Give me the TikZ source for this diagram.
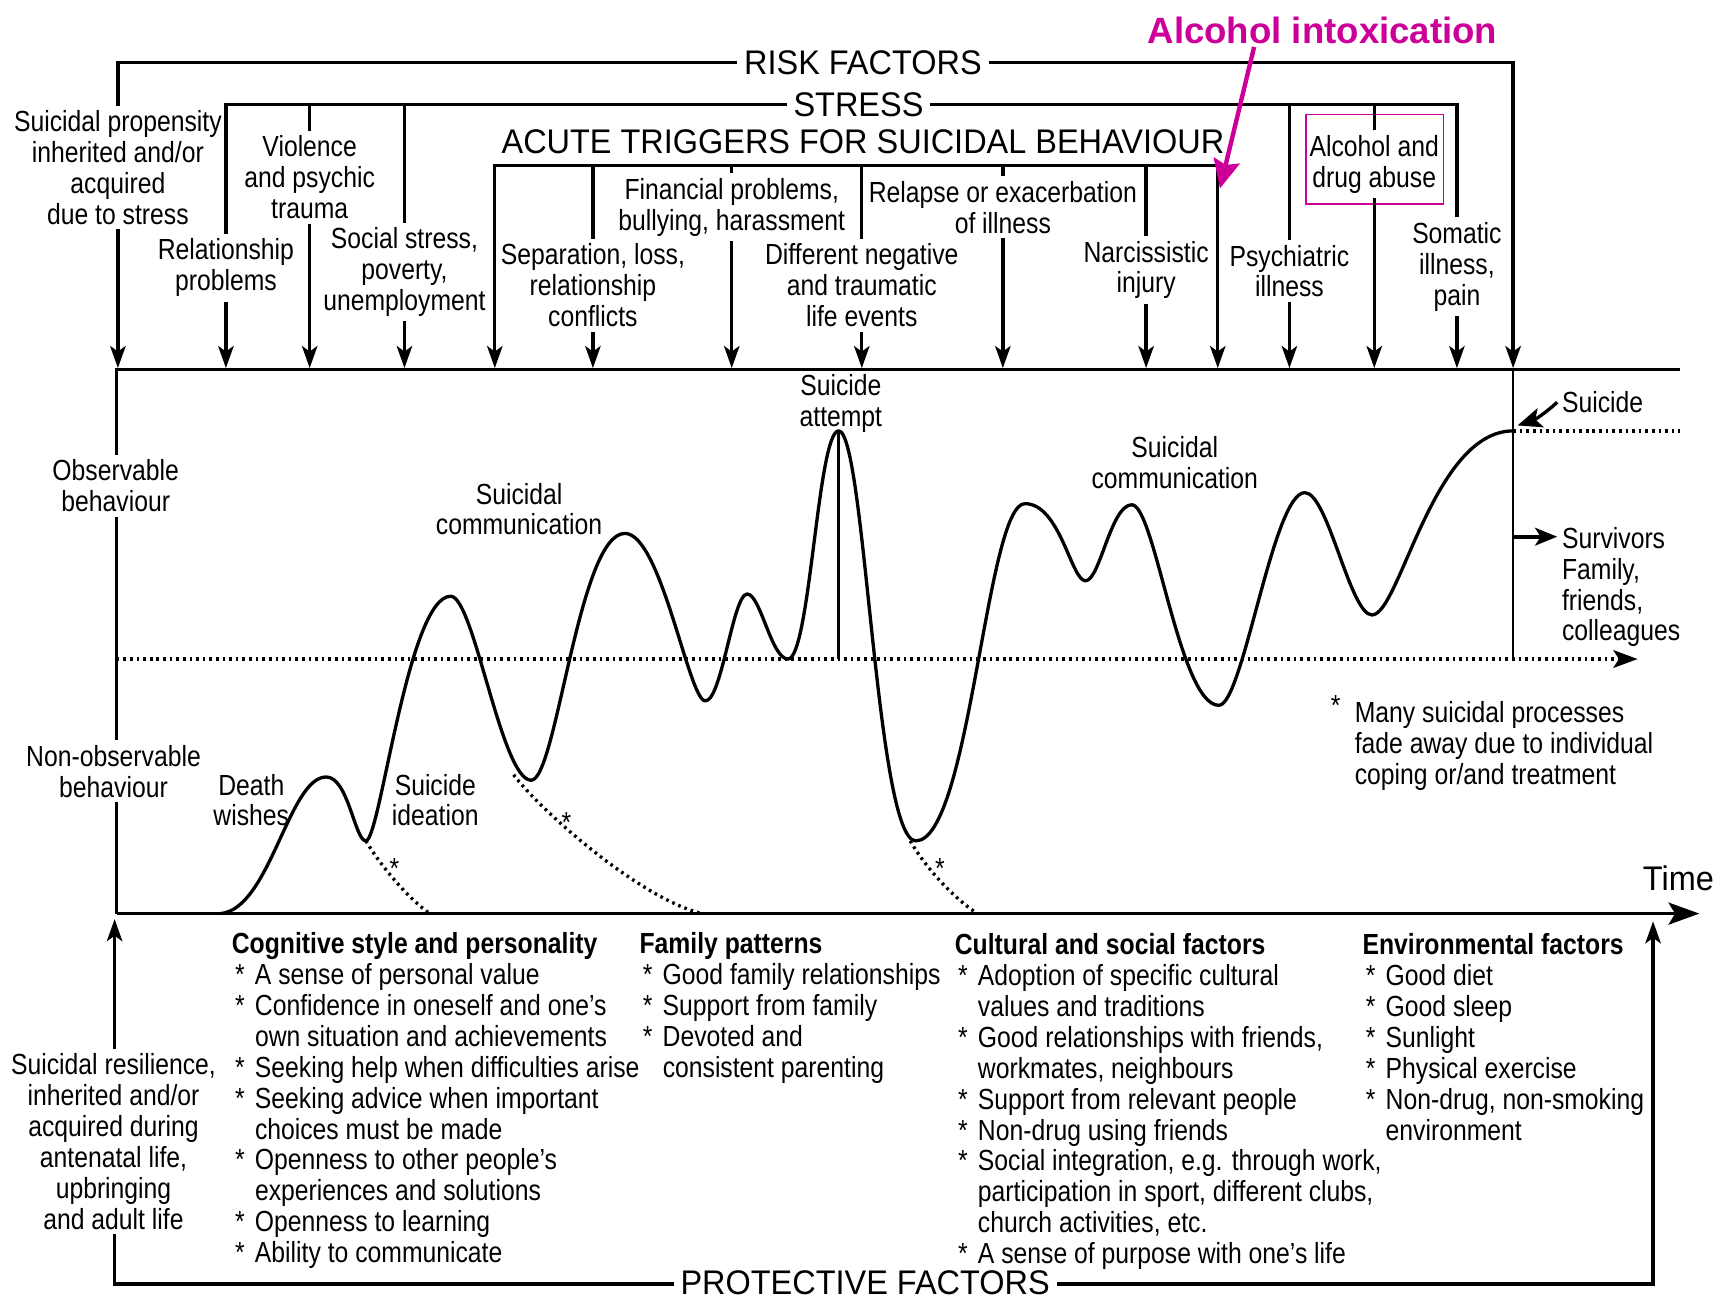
\documentclass[tikz,border=0pt]{standalone}
\usepackage{fontspec}
\setmainfont{Liberation Sans}[FakeStretch=0.85]
\newfontfamily\capfam{Liberation Sans}[FakeStretch=0.95]
\newfontfamily\plainfam{Liberation Sans}
\usetikzlibrary{arrows.meta,calc}
\definecolor{mag}{RGB}{204,0,153}
\newcommand\lblfont{\fontsize{13.2}{14}\selectfont}
\newcommand\capfont{\capfam\fontsize{15.5}{18}\selectfont}
\newcommand\aifont{\plainfam\fontsize{16.6}{20}\selectfont\bfseries}
\newcommand\bitem{\makebox[10.5pt][l]{\hspace{1.5pt}*}}
\newcommand\bcont{\hspace*{10.5pt}}
\begin{document}
\begin{tikzpicture}[x=0.5pt,y=-0.5pt,
  lbl/.style={align=center,font=\lblfont,inner sep=2pt},
  captxt/.style={font=\capfont,inner xsep=3pt,inner ysep=1pt},
  col/.style={anchor=north west,align=left,font=\lblfont,inner sep=0pt},
  ln/.style={line width=1.5pt},
  arr/.style={line width=1.5pt,-{Stealth[length=10pt,width=7pt,inset=2.5pt]}},
  arrboth/.style={line width=1.5pt,{Stealth[length=10pt,width=7pt,inset=2.5pt]}-{Stealth[length=10pt,width=7pt,inset=2.5pt]}},
  dots/.style={line width=1.5pt,dash pattern=on 1.2pt off 1.8pt},
]
\useasboundingbox (0,0) rectangle (1568,1180);

% ---------- top labels ----------
\node[lbl] (prop) at (107,152) {Suicidal propensity\\inherited and/or\\acquired\\due to stress};
\node[lbl] (rel) at (205,243) {Relationship\\problems};
\node[lbl] (vio) at (281,161) {Violence\\and psychic\\trauma};
\node[lbl] (soc) at (367,247) {Social stress,\\poverty,\\unemployment};
\node[lbl] (sep) at (538,259) {Separation, loss,\\relationship\\conflicts};
\node[lbl] (fin) at (664,188) {Financial problems,\\bullying, harassment};
\node[lbl] (dif) at (782,259) {Different negative\\and traumatic\\life events};
\node[lbl] (rlp) at (910,188) {Relapse or exacerbation\\of illness};
\node[lbl] (nar) at (1040,245) {Narcissistic\\injury};
\node[lbl] (psy) at (1170,246) {Psychiatric\\illness};
\node[draw=mag,line width=0.6pt,minimum width=62.5pt,minimum height=40.5pt,inner sep=0pt] (alcbox) at (1247.5,144.5) {};
\node[lbl] (alc) at (1247,149) {Alcohol and\\drug abuse};
\node[lbl] (som) at (1322,242) {Somatic\\illness,\\pain};

\node[captxt] (RF) at (783,57) {RISK FACTORS};
\node[captxt] (ST) at (779,95) {STRESS};
\node[captxt] (AC) at (783,129) {ACUTE TRIGGERS FOR SUICIDAL BEHAVIOUR};

\coordinate (bt) at (0,334);
\coordinate (rfE) at (1373,334);
\coordinate (acL) at (449,150);
\coordinate (acR) at (1105,150);

% risk factors
\draw[ln] (prop.north) |- (RF.west);
\draw[arr] (RF.east) -| (rfE);
\draw[arr] (prop.south) -- (prop.south |- bt);

% stress
\draw[ln] (rel.north) |- (ST.west);
\draw[ln] (ST.east) -| (som.north);
\foreach \n in {vio,soc,psy,alc}{\draw[ln] (\n.north) -- (\n.north |- ST);}
\foreach \n in {rel,vio,soc,psy,alc,som}{\draw[arr] (\n.south) -- (\n.south |- bt);}

% acute triggers
\draw[arrboth] (acL |- bt) |- (acR) -- (acR |- bt);
\foreach \n in {sep,fin,dif,rlp,nar}{\draw[ln] (\n.north) -- (\n.north |- acL);}
\foreach \n in {sep,fin,dif,rlp,nar}{\draw[arr] (\n.south) -- (\n.south |- bt);}

% alcohol intoxication
\node[font=\aifont,text=mag,inner sep=1pt] (AI) at (1200,28) {Alcohol intoxication};
\coordinate (aiTip) at (1107,171);
\draw[mag,line width=2pt,-{Stealth[length=13pt,width=12pt,inset=2pt]}] ([xshift=-31pt]AI.south) -- (aiTip);

% ---------- box ----------
\coordinate (boxL) at (106,335);
\coordinate (boxR) at (1524,335);
\coordinate (O) at (106,829);
\coordinate (tEnd) at (1542,829);
\node[lbl] (obs) at (105,441) {Observable\\behaviour};
\node[lbl] (nobs) at (103,700) {Non-observable\\behaviour};
\draw[ln] (boxR) -- (boxL) -- (boxL |- obs.north);
\draw[ln] (boxL |- obs.south) -- (boxL |- nobs.north);
\draw[ln] (boxL |- nobs.south) -- (O);
\draw[line width=1.5pt,-{Stealth[length=14pt,width=10pt,inset=3pt]}] (O) -- (tEnd);

% threshold
\coordinate (thL) at (106,598);
\coordinate (thR) at (1486,598);
\draw[dots,-{Stealth[length=11pt,width=8pt,inset=2.5pt]}] (thL) -- (thR);

% suicide line
\coordinate (sT) at (1373,335);
\coordinate (sB) at (1373,599);
\coordinate (sP) at (1373,391);
\coordinate (sE) at (1524,391);
\coordinate (sArr) at (1377,386);
\coordinate (svS) at (1373,487);
\draw[line width=1.1pt] (sT) -- (sB);
\draw[dots] (sP) -- (sE);
\node[lbl,anchor=west] (sui) at (1413,365) {Suicide};
\draw[line width=1.5pt,-{Stealth[length=11pt,width=9pt,inset=2.5pt]}] (sui.west) to[bend left=12] (sArr);
\node[lbl,anchor=north west,align=left] (surv) at (1413,474) {Survivors\\Family,\\friends,\\colleagues};
\draw[line width=1.8pt,-{Stealth[length=10pt,width=8pt,inset=2.5pt]}] (svS) -- (svS -| surv.west);

% curve
\draw[ln,line join=round] (200,829)
  .. controls (245,825) and (262,705) .. (296,705)
  .. controls (316,705) and (322,763) .. (332,763)
  .. controls (345,763) and (370,541) .. (409,541)
  .. controls (430,541) and (455,708) .. (482,708)
  .. controls (505,708) and (525,484) .. (567,484)
  .. controls (600,484) and (625,636) .. (640,636)
  .. controls (655,636) and (665,539) .. (678,539)
  .. controls (690,539) and (700,598) .. (715,598)
  .. controls (735,598) and (742,391) .. (761,391)
  .. controls (785,391) and (795,763) .. (831,763)
  .. controls (880,763) and (895,457) .. (930,457)
  .. controls (962,457) and (972,527) .. (985,527)
  .. controls (998,527) and (1008,458) .. (1027,458)
  .. controls (1048,458) and (1070,640) .. (1106,640)
  .. controls (1128,640) and (1155,447) .. (1184,447)
  .. controls (1205,447) and (1225,558) .. (1245,558)
  .. controls (1270,558) and (1300,391) .. (1373,391);
\coordinate (atT) at (761,391);
\coordinate (atB) at (761,598);
\draw[line width=1.1pt] (atT) -- (atB);

% fading dotted curves
\draw[dots] (332,763) .. controls (345,785) and (370,815) .. (390,829);
\draw[dots] (466,703) .. controls (490,735) and (580,815) .. (637,829);
\draw[dots] (826,763) .. controls (838,785) and (865,815) .. (887,829);

% labels in box
\node[lbl] (sa) at (763,366) {Suicide\\attempt};
\node[lbl] (sc1) at (471,462) {Suicidal\\communication};
\node[lbl] (sc2) at (1066,420) {Suicidal\\communication};
\node[lbl] (dw) at (228,726) {Death\\wishes};
\node[lbl] (si) at (395,726) {Suicide\\ideation};
\node[lbl,anchor=base] (as1) at (358,797) {*};
\node[lbl,anchor=base] (as2) at (514,755) {*};
\node[lbl,anchor=base] (as3) at (853,797) {*};
\node[lbl,anchor=base] (as4) at (1212,649) {*};
\node[lbl,anchor=north west,align=left] (fn) at (1225,632) {Many suicidal processes\\fade away due to individual\\coping or/and treatment};
\node[font=\capfont,inner sep=1pt] (time) at (1523,797) {Time};

% ---------- protective factors ----------
\node[lbl] (res) at (103,1036) {Suicidal resilience,\\inherited and/or\\acquired during\\antenatal life,\\upbringing\\and adult life};
\node[font=\capfont,inner xsep=3pt,inner ysep=0pt] (PF) at (785,1164) {PROTECTIVE FACTORS};
\coordinate (pfL) at (104,1165);
\coordinate (pfLt) at (104,834);
\coordinate (pfR) at (1500,1165);
\coordinate (pfRt) at (1500,836);
\draw[arr] (res.north -| pfL) -- (pfLt);
\draw[ln] (res.south -| pfL) -- (pfL) -- (pfL -| PF.west);
\draw[arr] (pfR -| PF.east) -- (pfR) -- (pfRt);

\node[col] (c1) at (210,846) {\textbf{Cognitive style and personality}\\
\bitem A sense of personal value\\
\bitem Confidence in oneself and one’s\\
\bcont own situation and achievements\\
\bitem Seeking help when difficulties arise\\
\bitem Seeking advice when important\\
\bcont choices must be made\\
\bitem Openness to other people’s\\
\bcont experiences and solutions\\
\bitem Openness to learning\\
\bitem Ability to communicate};

\node[col] (c2) at (580,846) {\textbf{Family patterns}\\
\bitem Good family relationships\\
\bitem Support from family\\
\bitem Devoted and\\
\bcont consistent parenting};

\node[col] (c3) at (866,847) {\textbf{Cultural and social factors}\\
\bitem Adoption of specific cultural\\
\bcont values and traditions\\
\bitem Good relationships with friends,\\
\bcont workmates, neighbours\\
\bitem Support from relevant people\\
\bitem Non-drug using friends\\
\bitem Social integration, e.g. through work,\\
\bcont participation in sport, different clubs,\\
\bcont church activities, etc.\\
\bitem A sense of purpose with one’s life};

\node[col] (c4) at (1236,847) {\textbf{Environmental factors}\\
\bitem Good diet\\
\bitem Good sleep\\
\bitem Sunlight\\
\bitem Physical exercise\\
\bitem Non-drug, non-smoking\\
\bcont environment};
\end{tikzpicture}
\end{document}
